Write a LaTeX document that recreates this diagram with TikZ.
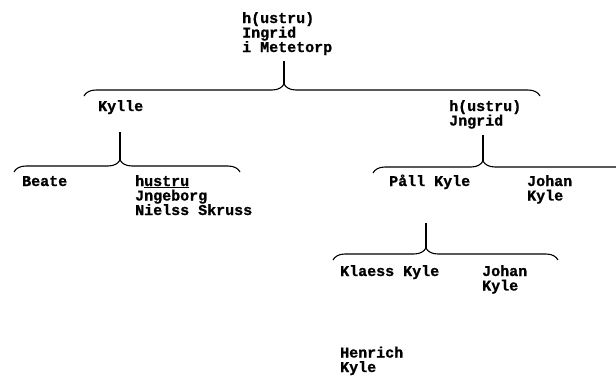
\documentclass[tikz,border=0pt]{standalone}
\usepackage{fontspec}
\setmonofont[BoldFeatures={FakeBold=1}]{Liberation Mono}
\usetikzlibrary{decorations.pathreplacing}
\begin{document}
\begin{tikzpicture}[x=1pt, y=-1pt,
    LBL/.style={anchor=base west, inner sep=0pt, align=left, font=\ttfamily\bfseries\fontsize{15}{14.5}\selectfont},
    STEM/.style={line width=1.1pt},
    FAM/.style={line width=1.1pt, decorate, decoration={brace, amplitude=12pt, aspect=#1}}]
    \useasboundingbox (0,0) rectangle (616,383);
    \clip (0,0) rectangle (616,383);
    % persons (anchored at the baseline of the last line)
    \node[LBL] (ingrid) at (242,52) {h(ustru)\\Ingrid\\i Metetorp};
    \node[LBL] (kylle) at (98,111) {Kylle};
    \node[LBL] (jngrid) at (449,125.5) {h(ustru)\\Jngrid};
    \node[LBL] (beate) at (22,186) {Beate};
    \node[LBL] (jngeborg) at (135,215) {h\underline{ustru}\\Jngeborg\\Nielss Skruss};
    \node[LBL] (paall) at (389,186) {Påll Kyle};
    \node[LBL] (johanA) at (527,200.5) {Johan\\Kyle};
    \node[LBL] (klaess) at (340,276) {Klaess Kyle};
    \node[LBL] (johanB) at (482,290.5) {Johan\\Kyle};
    \node[LBL] (henrich) at (340,372) {Henrich\\Kyle};
    % brace ends and tips
    \coordinate (topL) at (84,96); \coordinate (topR) at (540,96); \coordinate (topTip) at (284,84);
    \coordinate (kylL) at (14,172); \coordinate (kylR) at (240,172); \coordinate (kylTip) at (120,160);
    \coordinate (jngL) at (373,173); \coordinate (jngR) at (650,173); \coordinate (jngTip) at (483,161);
    \coordinate (palL) at (333,260); \coordinate (palR) at (558,260); \coordinate (palTip) at (426,248);
    % stems and braces
    \draw[STEM, shorten <=6pt] (ingrid.south -| topTip) -- (topTip); \draw[FAM=0.4386] (topL) -- (topR);
    \draw[STEM, shorten <=18pt] (kylle.south -| kylTip) -- (kylTip); \draw[FAM=0.469] (kylL) -- (kylR);
    \draw[STEM, shorten <=6pt] (jngrid.south -| jngTip) -- (jngTip); \draw[FAM=0.397] (jngL) -- (jngR);
    \draw[STEM, shorten <=34pt] (paall.south -| palTip) -- (palTip); \draw[FAM=0.413] (palL) -- (palR);
\end{tikzpicture}
\end{document}
